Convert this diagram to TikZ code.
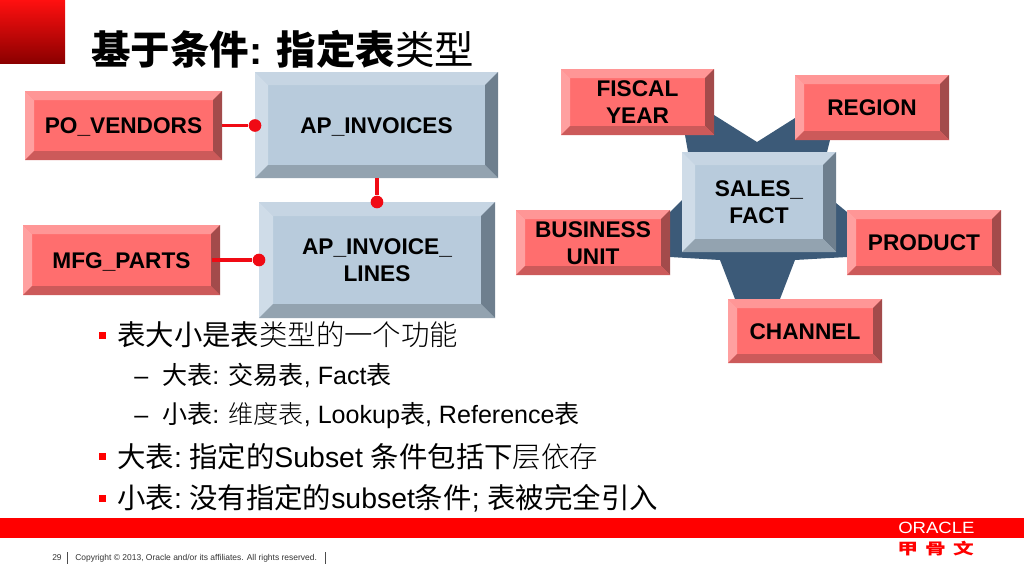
\documentclass[tikz,border=0pt]{standalone}
\usepackage{fontspec}
\setmainfont{Liberation Sans}
\newfontfamily\cjkfont{Noto Sans CJK SC}
\newfontfamily\cjklight{Noto Sans CJK SC Light}
\newcommand{\zh}[1]{{\cjkfont\mdseries #1}}
\newcommand{\zl}[1]{{\cjklight\mdseries #1}}
\newcommand{\zb}[1]{{\cjkfont\bfseries #1}}

\definecolor{redmid}{RGB}{255,110,110}
\definecolor{redtop}{RGB}{255,150,150}
\definecolor{redleft}{RGB}{255,160,160}
\definecolor{redright}{RGB}{163,75,75}
\definecolor{redbottom}{RGB}{204,90,90}
\definecolor{bluemid}{RGB}{184,203,220}
\definecolor{bluetop}{RGB}{198,213,227}
\definecolor{blueleft}{RGB}{207,220,232}
\definecolor{blueright}{RGB}{110,127,142}
\definecolor{bluebottom}{RGB}{147,163,176}
\definecolor{starblue}{RGB}{60,90,120}
\definecolor{bandred}{RGB}{255,0,0}
\definecolor{linkred}{RGB}{240,10,20}

\tikzset{
  tablelabel/.style={inner sep=0pt,align=center,font=\fontsize{17}{20.2}\selectfont\bfseries},
  reldot/.style={circle,fill=linkred,minimum size=9.5pt,inner sep=0pt},
  rellink/.style={draw=linkred,line width=2.6pt},
  bodyline/.style={anchor=base west,inner sep=0pt,font=\fontsize{21.3}{25}\selectfont},
  subline/.style={anchor=base west,inner sep=0pt,font=\fontsize{18.8}{22}\selectfont},
  footer/.style={anchor=base west,inner sep=0pt,font=\fontsize{6.35}{8}\selectfont,color=black!80},
  bullet/.style={fill=bandred}
}

% name, x1, y1, x2, y2, bevel, colour family, text
\newcommand{\bevelbox}[8]{
  \fill[#7mid] (#2,#3) rectangle (#4,#5);
  \fill[#7top] (#2,#3) -- (#4,#3) -- ({#4-#6},{#3+#6}) -- ({#2+#6},{#3+#6}) -- cycle;
  \fill[#7left] (#2,#3) -- ({#2+#6},{#3+#6}) -- ({#2+#6},{#5-#6}) -- (#2,#5) -- cycle;
  \fill[#7right] (#4,#3) -- ({#4-#6},{#3+#6}) -- ({#4-#6},{#5-#6}) -- (#4,#5) -- cycle;
  \fill[#7bottom] (#2,#5) -- ({#2+#6},{#5-#6}) -- ({#4-#6},{#5-#6}) -- (#4,#5) -- cycle;
  \node[tablelabel,minimum width={(#4-#2)*0.75pt},minimum height={(#5-#3)*0.75pt}] (#1) at ({(#2+#4)/2},{(#3+#5)/2}) {\rule{0pt}{18.4pt}#8\rule[-6pt]{0pt}{6pt}};
}

\begin{document}
\begin{tikzpicture}[x=0.75pt,y=0.75pt,yscale=-1,xscale=1]
\useasboundingbox (0,0) rectangle (1024,576);

%Shape: Corner
\shade[top color={rgb,255:red,255;green,16;blue,16},bottom color={rgb,255:red,139;green,0;blue,0}] (0,0) rectangle (65,63);
%Shape: Band
\fill[bandred] (0,518) rectangle (1024,538);

% Title
\node[anchor=base west,inner sep=0pt,font=\fontsize{29.6}{34}\selectfont\bfseries] (title) at (91,64) {\zb{基于条件}: \zb{指定表}\zh{类型}};

%Shape: Star
\fill[starblue] (714,115) -- (757,142) -- (795,118) -- (830,140) -- (827,152) -- (836,203) -- (847,212) -- (847,257) -- (795,260) -- (780,299) -- (735,299) -- (720,260) -- (670,257) -- (670,212) -- (682,200) -- (688,152) -- (685,135) -- cycle;

% Tables
\bevelbox{poVendors}{25}{91}{222}{160}{9}{red}{PO\_VENDORS}
\bevelbox{mfgParts}{23}{225}{220}{295}{9}{red}{MFG\_PARTS}
\bevelbox{apInvoices}{255}{72}{498}{178}{13}{blue}{AP\_INVOICES}
\bevelbox{apLines}{259}{202}{495}{318}{14}{blue}{AP\_INVOICE\_\\LINES}
\bevelbox{fiscalYear}{561}{69}{714}{135}{9}{red}{FISCAL\\YEAR}
\bevelbox{region}{795}{75}{949}{140}{9}{red}{REGION}
\bevelbox{salesFact}{682}{152}{836}{252}{13}{blue}{SALES\_\\FACT}
\bevelbox{businessUnit}{516}{210}{670}{275}{9}{red}{BUSINESS\\UNIT}
\bevelbox{product}{847}{210}{1001}{275}{9}{red}{PRODUCT}
\bevelbox{channel}{728}{299}{882}{363}{9}{red}{CHANNEL}

%Straight Lines
\node[reldot] (dotA) at (255,125.5) {};
\node[reldot] (dotB) at (377,202) {};
\node[reldot] (dotC) at (259,260) {};
\draw[rellink] (poVendors.east |- dotA) -- (dotA);
\draw[rellink] (apInvoices.south -| dotB) -- (dotB);
\draw[rellink] ([xshift=-6pt]mfgParts.east |- dotC) -- (dotC);

% Text Node
\fill[bullet] (99,332) rectangle (106,339);
\node[bodyline] (lineA) at (117,345.5) {\zh{表大小是表}\zl{类型的一个功能}};
\node[subline] (dashB) at (134,384) {–};
\node[subline] (lineB) at (162,384) {\zh{大表}: \zh{交易表}, Fact\zh{表}};
\node[subline] (dashC) at (134,423) {–};
\node[subline] (lineC) at (162,423) {\zh{小表}: \zl{维度表}, Lookup\zh{表}, Reference\zh{表}};
\fill[bullet] (99,453) rectangle (106,460);
\node[bodyline] (lineD) at (117,467) {\zh{大表}:\hspace{5.5pt}\zh{指定的}Subset \zh{条件包括下}\zl{层依存}};
\fill[bullet] (99,495) rectangle (106,502);
\node[bodyline] (lineE) at (117,508) {\zh{小表}:\hspace{5.5pt}\zh{没有指定的}subset\zh{条件}; \zh{表被完全引入}};

% Footer
\node[footer] (pageNo) at (52,560.5) {29};
\node[footer] (copyText) at (75,560.5) {Copyright © 2013, Oracle and/or its affiliates. All rights reserved.};
\draw[black!70,line width=0.5pt] (67,552) -- (67,564);
\draw[black!70,line width=0.5pt] (325,552) -- (325,564);

% Logo
\node[anchor=base west,inner sep=0pt,text=white,font=\fontsize{12.2}{14}\selectfont] (logoEn) at (898,533) {\scalebox{1.14}[1]{ORACLE}};
\node[anchor=base west,inner sep=0pt,text=bandred,font=\fontsize{11.5}{13}\selectfont] (logoZh) at (897,554) {\scalebox{1.35}[1]{\zb{甲}\hspace{4pt}\zb{骨}\hspace{4pt}\zb{文}}};

\end{tikzpicture}
\end{document}
